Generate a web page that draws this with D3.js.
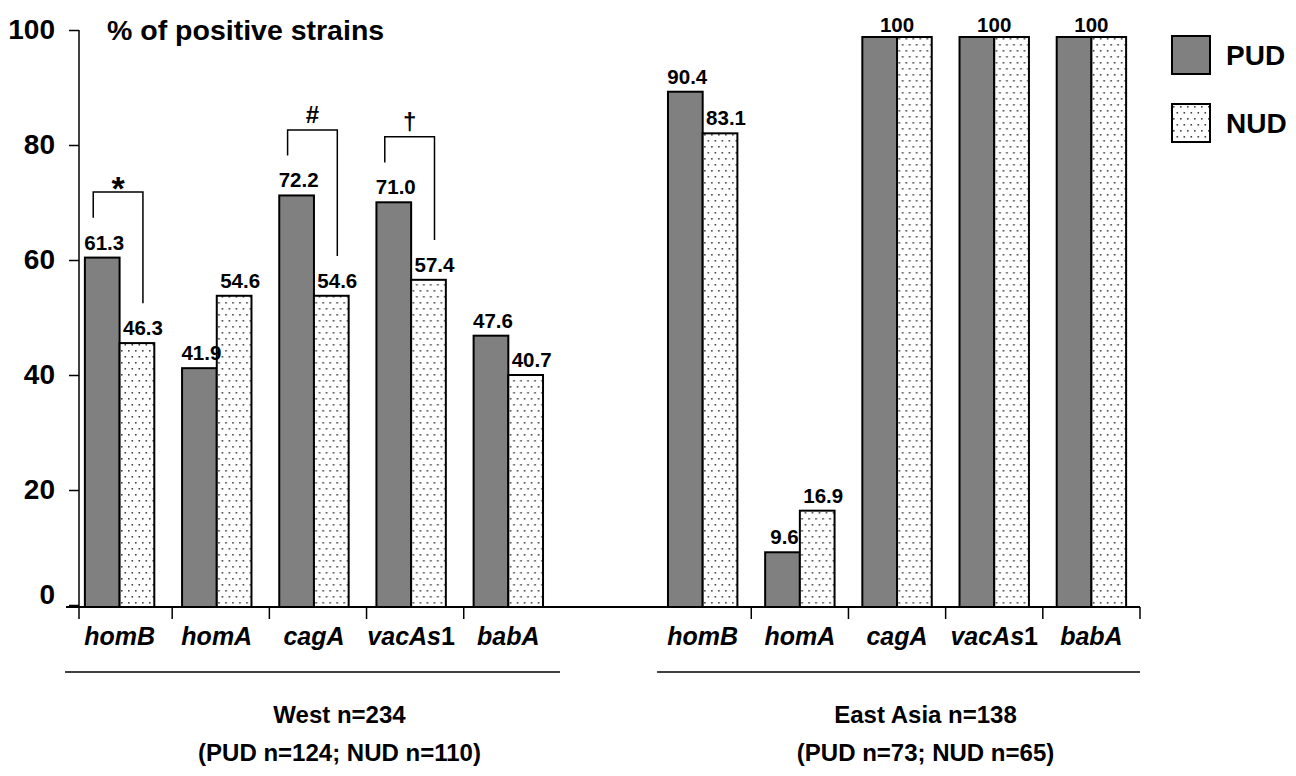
<!DOCTYPE html>
<html>
<head>
<meta charset="utf-8">
<script src="https://cdn.jsdelivr.net/npm/d3@7"></script>
<style>
    body { margin: 0; background: #fff; }
    svg text { font-family: "Liberation Sans", Arial, sans-serif; font-weight: bold; fill: #000; }
</style>
</head>
<body>
<div class="chart"></div>
<script>
// data
const genes = ['homB', 'homA', 'cagA', 'vacAs1', 'babA'];
const groups = ['PUD', 'NUD'];
const westPUD = [61.3, 41.9, 72.2, 71.0, 47.6];
const westNUD = [46.3, 54.6, 54.6, 57.4, 40.7];
const eastPUD = [90.4, 9.6, 100, 100, 100];
const eastNUD = [83.1, 16.9, 100, 100, 100];
const yTicks = [0, 20, 40, 60, 80, 100];
const regionTitles = ['West n=234', 'East Asia n=138'];
const regionSubtitles = ['(PUD n=124; NUD n=110)', '(PUD n=73; NUD n=65)'];
const sigGenes = ['homB', 'cagA', 'vacAs1'];
const sigSymbols = ['*', '#', '\u2020'];

const width = 1296, height = 776;

// one row per bar pair, west first, then east
let rows = [];
genes.forEach((g, i) => rows.push({ region: 'West', gene: g, slot: 'West|' + g, PUD: westPUD[i], NUD: westNUD[i] }));
genes.forEach((g, i) => rows.push({ region: 'East', gene: g, slot: 'East|' + g, PUD: eastPUD[i], NUD: eastNUD[i] }));

// an empty slot between the two regions
let slots = rows.filter(r => r.region === 'West').map(r => r.slot)
    .concat(['gap'])
    .concat(rows.filter(r => r.region === 'East').map(r => r.slot));

let svg = d3.select('.chart')
    .append('svg')
    .attr('width', width)
    .attr('height', height);

// dotted fill used for NUD
let pat = svg.append('defs').append('pattern')
    .attr('id', 'dots')
    .attr('patternUnits', 'userSpaceOnUse')
    .attr('width', 7)
    .attr('height', 12);
pat.append('rect').attr('width', 7).attr('height', 12).attr('fill', '#fff');
pat.append('rect').attr('x', 1).attr('y', 2).attr('width', 1.6).attr('height', 1.6).attr('fill', '#444');
pat.append('rect').attr('x', 4.5).attr('y', 8).attr('width', 1.6).attr('height', 1.6).attr('fill', '#444');

let x0 = d3.scaleBand().domain(slots).range([71, 1140]);
let x1 = d3.scaleBand().domain(groups).range([0, x0.bandwidth()]).paddingOuter(0.4);
let y = d3.scaleLinear().domain([0, 100]).range([607, 37]);
// the axis in the figure is laid out slightly differently from the bars
let yAxisScale = d3.scaleLinear().domain([0, 100]).range([605, 30]);
let fill = d3.scaleOrdinal().domain(groups).range(['#808080', 'url(#dots)']);

// y axis
let yAxis = svg.append('g')
    .attr('transform', 'translate(79,0)')
    .call(d3.axisLeft(yAxisScale).tickValues(yTicks).tickSize(10).tickPadding(14).tickSizeOuter(0));
yAxis.select('.domain').remove();
yAxis.selectAll('line').attr('stroke', '#000').attr('stroke-width', 1.5);
yAxis.selectAll('text')
    .style('font-size', '28px')
    .attr('font-family', null)
    .attr('y', d => d === 0 ? -10 : 0);
svg.append('line')
    .attr('x1', 79).attr('x2', 79)
    .attr('y1', yAxisScale(100)).attr('y2', 619)
    .attr('stroke', '#000').attr('stroke-width', 1.5);

svg.append('text')
    .attr('x', 107).attr('y', 40)
    .style('font-size', '28.5px')
    .text('% of positive strains');

// bars
let pair = svg.selectAll('.pair').data(rows).enter().append('g')
    .attr('class', 'pair')
    .attr('transform', d => 'translate(' + x0(d.slot) + ',0)');

pair.selectAll('rect')
    .data(d => groups.map(k => ({ key: k, value: d[k] })))
    .enter().append('rect')
    .attr('x', d => x1(d.key))
    .attr('y', d => y(d.value))
    .attr('width', x1.bandwidth())
    .attr('height', d => y(0) - y(d.value))
    .attr('fill', d => fill(d.key))
    .attr('stroke', '#000')
    .attr('stroke-width', 2);

// value labels; a single "100" when both bars are full
let fmt = v => v === 100 ? '100' : v.toFixed(1);
pair.each(function(d) {
    let g = d3.select(this);
    if (d.PUD === 100 && d.NUD === 100) {
        g.append('text')
            .attr('x', x0.bandwidth() / 2).attr('y', y(100) - 5)
            .attr('text-anchor', 'middle')
            .style('font-size', '20.5px')
            .text('100');
    } else {
        groups.forEach(k => {
            g.append('text')
                .attr('x', x1(k) + x1.bandwidth() / 2 + (k === 'NUD' ? 6 : 2))
                .attr('y', y(d[k]) - 8)
                .attr('text-anchor', 'middle')
                .style('font-size', '20.5px')
                .text(fmt(d[k]));
        });
    }
});

// x axis line and ticks
svg.append('line')
    .attr('x1', 66).attr('x2', 1140)
    .attr('y1', 607).attr('y2', 607)
    .attr('stroke', '#000').attr('stroke-width', 2);

let tickX = [];
rows.forEach((r, i) => {
    if (r.region === 'West' && i > 0) tickX.push(x0(r.slot) + 4);
    if (r.region === 'East' && r.gene !== genes[0]) tickX.push(x0(r.slot));
});
tickX.push(x0.range()[1]);
svg.selectAll('.xtick').data(tickX).enter().append('line')
    .attr('class', 'xtick')
    .attr('x1', d => d).attr('x2', d => d)
    .attr('y1', 607).attr('y2', 619)
    .attr('stroke', '#000').attr('stroke-width', 1.5);

// gene names under each pair
let catLabel = svg.selectAll('.cat').data(rows).enter().append('text')
    .attr('class', 'cat')
    .attr('x', d => x0(d.slot) + x0.bandwidth() / 2)
    .attr('y', 645)
    .attr('text-anchor', 'middle')
    .style('font-size', '25px');
catLabel.append('tspan')
    .style('font-style', 'italic')
    .text(d => d.gene.replace(/1$/, ''));
catLabel.append('tspan')
    .text(d => /1$/.test(d.gene) ? '1' : '');

// significance brackets
sigGenes.forEach((gene, i) => {
    let r = rows.find(d => d.region === 'West' && d.gene === gene);
    let xl = x0(r.slot) + x1('PUD') + x1.bandwidth() / 2 - 9;
    let xr = x0(r.slot) + x1('NUD') + x1.bandwidth() / 2 + 6;
    let top = y(r.PUD + 11.5);
    svg.append('path')
        .attr('d', 'M' + xl + ',' + y(r.PUD + 7) + 'V' + top + 'H' + xr + 'V' + y(r.NUD + 7))
        .attr('fill', 'none')
        .attr('stroke', '#000')
        .attr('stroke-width', 1.5);
    let star = sigSymbols[i] === '*';
    svg.append('text')
        .attr('x', (xl + xr) / 2)
        .attr('y', star ? top + 8 : top - 7)
        .attr('text-anchor', 'middle')
        .style('font-size', star ? '34px' : '24px')
        .text(sigSymbols[i]);
});

// region lines and captions
['West', 'East'].forEach((reg, i) => {
    let regRows = rows.filter(d => d.region === reg);
    let left = x0(regRows[0].slot) + (i === 0 ? -6 : 3);
    let right = i === 0 ? 560 : x0.range()[1];
    let mid = (left + right) / 2 + 27;
    svg.append('line')
        .attr('x1', left).attr('x2', right)
        .attr('y1', 672).attr('y2', 672)
        .attr('stroke', '#000').attr('stroke-width', 1.5);
    svg.append('text')
        .attr('x', mid).attr('y', 723)
        .attr('text-anchor', 'middle')
        .style('font-size', '24px')
        .text(regionTitles[i]);
    svg.append('text')
        .attr('x', mid).attr('y', 761)
        .attr('text-anchor', 'middle')
        .style('font-size', '24px')
        .text(regionSubtitles[i]);
});

// legend
let legend = svg.selectAll('.legend').data(groups).enter().append('g')
    .attr('class', 'legend')
    .attr('transform', (d, i) => 'translate(1172,' + (36 + i * 68) + ')');
legend.append('rect')
    .attr('width', 38).attr('height', 38)
    .attr('fill', d => fill(d))
    .attr('stroke', '#000').attr('stroke-width', 2);
legend.append('text')
    .attr('x', 54).attr('y', 29)
    .style('font-size', '28px')
    .text(d => d);
</script>
</body>
</html>
